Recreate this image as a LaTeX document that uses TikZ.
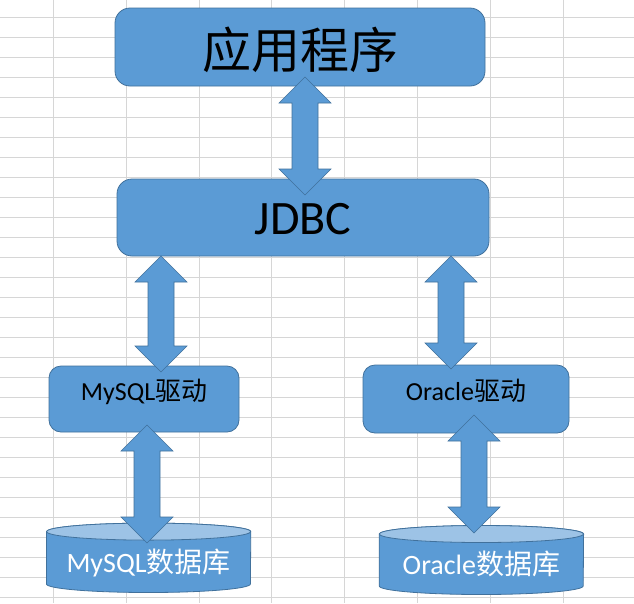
\documentclass[tikz,border=0pt]{standalone}
\usepackage{fontspec}
\setmainfont{Carlito}
\newfontfamily\cjk{Noto Sans CJK SC}
\usetikzlibrary{calc,backgrounds}

\definecolor{officeblue}{HTML}{5B9BD5}
\definecolor{officeedge}{HTML}{41719C}
\definecolor{officelight}{HTML}{9DC3E6}
\definecolor{gridgray}{HTML}{D6D6D6}

% block double arrow between two tips on one vertical
\newcommand\duplex[2]{%
  \draw[blockarrow] let \p1=(#1), \p2=(#2) in
    (\x1,\y1) -- (\x1+26pt,\y1-26pt) -- (\x1+13pt,\y1-26pt) -- (\x1+13pt,\y2+26pt)
    -- (\x1+26pt,\y2+26pt) -- (\x2,\y2) -- (\x1-26pt,\y2+26pt) -- (\x1-13pt,\y2+26pt)
    -- (\x1-13pt,\y1-26pt) -- (\x1-26pt,\y1-26pt) -- cycle;}

% cylinder drawn round a database node
\newcommand\drum[1]{%
  \draw[dbbody] ([yshift=-8.5pt]#1.north west) -- ([yshift=8.5pt]#1.south west)
    arc[start angle=180,end angle=360,x radius=102pt,y radius=8.5pt]
    -- ([yshift=-8.5pt]#1.north east)
    arc[start angle=0,end angle=180,x radius=102pt,y radius=8.5pt] -- cycle;
  \draw[dbbody,fill=officelight] ([yshift=-8.5pt]#1.north) ellipse[x radius=102pt,y radius=8.5pt];}

\begin{document}
\begin{tikzpicture}[x=1pt,y=-1pt,
  box/.style={draw=officeedge,fill=officeblue,line width=0.8pt,rounded corners=15pt,inner sep=0pt,text depth=0pt},
  drv/.style={box,rounded corners=12pt,text height=3.4pt,font=\fontsize{26}{26}\selectfont},
  dbnode/.style={inner sep=0pt,minimum width=204pt,text depth=0pt,text=white,font=\fontsize{28}{28}\selectfont},
  dbbody/.style={draw=officeedge,fill=officeblue,line width=0.8pt},
  blockarrow/.style={draw=officeedge,fill=officeblue,line width=0.6pt,line join=miter},
  gridline/.style={gridgray,line width=1pt}]
\useasboundingbox (0,0) rectangle (634,603);
\begin{scope}[on background layer]
  \fill[white] (0,0) rectangle (634,603);
  \foreach \i in {0,...,7}
    \draw[gridline] ({53.4+72.8*\i},0) -- ({53.4+72.8*\i},603);
  \foreach \j in {0,...,29}
    \draw[gridline] (0,{17.3+20*\j}) -- (634,{17.3+20*\j});
\end{scope}

\node[box,minimum width=370pt,minimum height=78pt,text height=43pt,font=\cjk\fontsize{49}{49}\selectfont] (app) at (300,47) {应用程序};
\node[box,minimum width=372pt,minimum height=77pt,text height=33pt,font=\fontsize{48}{48}\selectfont] (jdbc) at (303,217.5) {JDBC};
\node[drv,minimum width=190pt,minimum height=66pt] (mysqldrv) at (144,399) {MySQL{\cjk 驱动}};
\node[drv,minimum width=206pt,minimum height=68pt] (oracledrv) at (466,399) {Oracle{\cjk 驱动}};
\node[dbnode,minimum height=69pt,text height=29.8pt] (mysqldb) at (148.6,557.8) {MySQL{\cjk 数据库}};
\node[dbnode,minimum height=68.6pt,text height=28pt] (oracledb) at (481.4,560) {Oracle{\cjk 数据库}};
\begin{scope}[on background layer]
  \drum{mysqldb}
  \drum{oracledb}
\end{scope}

\coordinate (app-jdbc1) at (305,77);
\coordinate (app-jdbc2) at (305,195);
\coordinate (jdbc-mysql1) at (161,256);
\coordinate (jdbc-mysql2) at (161,372);
\coordinate (jdbc-oracle1) at (451,256);
\coordinate (jdbc-oracle2) at (451,369);
\coordinate (mysql-db1) at (147,425);
\coordinate (mysql-db2) at (147,543);
\coordinate (oracle-db1) at (474,415);
\coordinate (oracle-db2) at (474,533);
\duplex{app-jdbc1}{app-jdbc2}
\duplex{jdbc-mysql1}{jdbc-mysql2}
\duplex{jdbc-oracle1}{jdbc-oracle2}
\duplex{mysql-db1}{mysql-db2}
\duplex{oracle-db1}{oracle-db2}
\end{tikzpicture}
\end{document}
